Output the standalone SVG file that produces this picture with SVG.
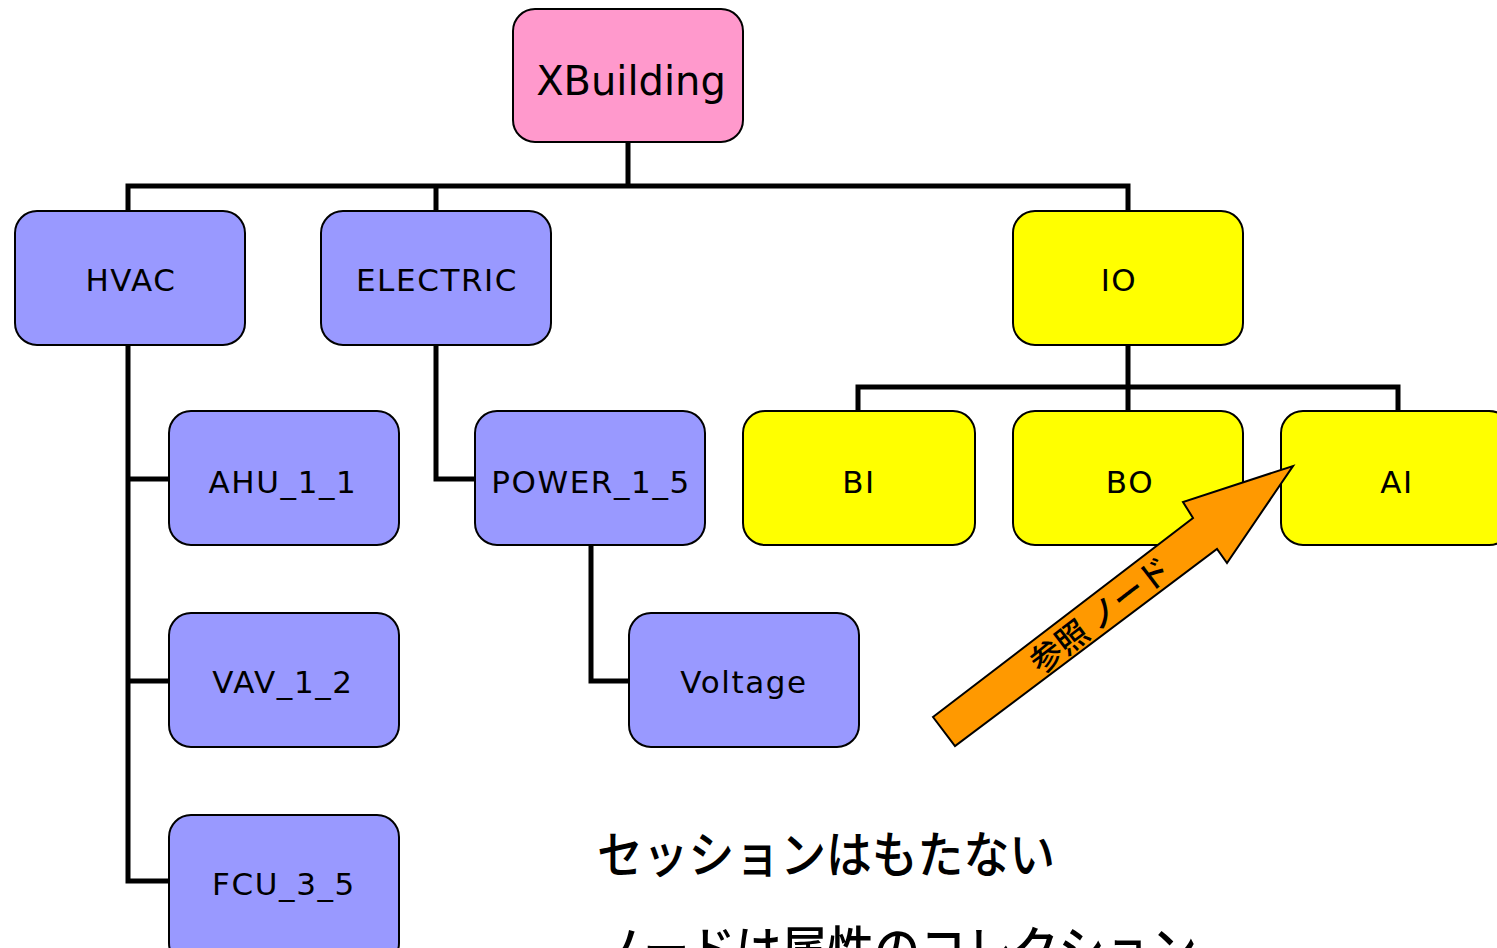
<svg xmlns="http://www.w3.org/2000/svg" width="1497" height="948" viewBox="0 0 1497 948">
<style>
.box{stroke:#000;stroke-width:2}
.pink{fill:#FF99CC}
.blue{fill:#9999FF}
.yel{fill:#FFFF00}
.lbl{font-family:"DejaVu Sans","Liberation Sans",sans-serif;font-size:31px;fill:#000;text-anchor:middle;letter-spacing:1.6px}
.conn{fill:none;stroke:#000;stroke-width:5}
.jp{font-family:"Noto Sans CJK JP",sans-serif;fill:#000;font-weight:500}
</style>
<rect width="1497" height="948" fill="#fff"/>
<g id="connectors">
<path class="conn" d="M628,142 V186 M128,210 V186 H1128 V210 M436,186 V210"/>
<path class="conn" d="M128,345 V881 H169 M128,479 H169 M128,681 H169"/>
<path class="conn" d="M436,345 V479 H475"/>
<path class="conn" d="M591,545 V681 H629"/>
<path class="conn" d="M1128,345 V387 M858,411 V387 H1398 V411 M1128,387 V411"/>
</g>
<g id="xbuilding"><rect class="box pink" x="513" y="9" width="230" height="133" rx="22"/><text class="lbl" x="631" y="95" style="font-size:40px;letter-spacing:0">XBuilding</text></g>
<g id="hvac"><rect class="box blue" x="15" y="211" width="230" height="134" rx="22"/><text class="lbl" x="131" y="291">HVAC</text></g>
<g id="electric"><rect class="box blue" x="321" y="211" width="230" height="134" rx="22"/><text class="lbl" x="437" y="291">ELECTRIC</text></g>
<g id="io"><rect class="box yel" x="1013" y="211" width="230" height="134" rx="22"/><text class="lbl" x="1119" y="291">IO</text></g>
<g id="ahu"><rect class="box blue" x="169" y="411" width="230" height="134" rx="22"/><text class="lbl" x="283" y="493">AHU_1_1</text></g>
<g id="power"><rect class="box blue" x="475" y="411" width="230" height="134" rx="22"/><text class="lbl" x="591" y="493">POWER_1_5</text></g>
<g id="bi"><rect class="box yel" x="743" y="411" width="232" height="134" rx="22"/><text class="lbl" x="859" y="493">BI</text></g>
<g id="bo"><rect class="box yel" x="1013" y="411" width="230" height="134" rx="22"/><text class="lbl" x="1130" y="493">BO</text></g>
<g id="ai"><rect class="box yel" x="1281" y="411" width="230" height="134" rx="22"/><text class="lbl" x="1397" y="493">AI</text></g>
<g id="vav"><rect class="box blue" x="169" y="613" width="230" height="134" rx="22"/><text class="lbl" x="283" y="693">VAV_1_2</text></g>
<g id="voltage"><rect class="box blue" x="629" y="613" width="230" height="134" rx="22"/><text class="lbl" x="744" y="693">Voltage</text></g>
<g id="fcu"><rect class="box blue" x="169" y="815" width="230" height="150" rx="22"/><text class="lbl" x="284" y="895">FCU_3_5</text></g>
<g id="ref-arrow">
<polygon points="933,717 1193,518 1183,502 1293,466 1227,563 1217,549 955,746" fill="#FF9900" stroke="#000" stroke-width="2"/>
<text class="jp" x="1100" y="627" font-size="32" text-anchor="middle" transform="rotate(-37.4 1100 615)">参照 ノード</text>
</g>
<g id="notes">
<text class="jp" x="597" y="873" font-size="50" textLength="458" lengthAdjust="spacingAndGlyphs">セッションはもたない</text>
<text class="jp" x="597" y="968" font-size="50" textLength="600" lengthAdjust="spacingAndGlyphs">ノードは属性のコレクション</text>
</g>
</svg>
